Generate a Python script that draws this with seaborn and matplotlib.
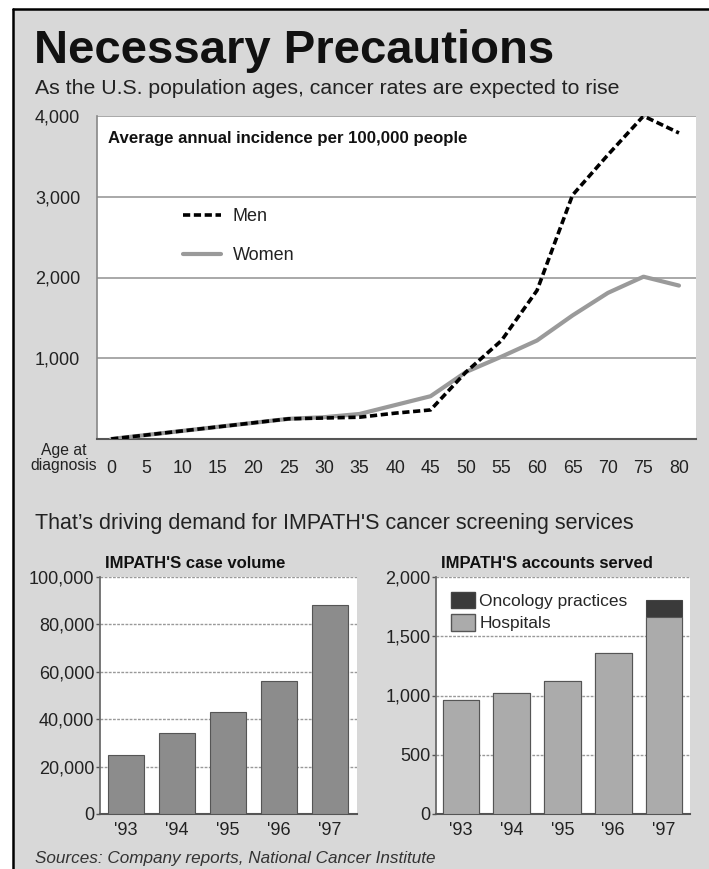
import numpy as np
import pandas as pd
import matplotlib
matplotlib.use("Agg")
import matplotlib.pyplot as plt
from matplotlib.patches import Rectangle
from matplotlib.lines import Line2D
from matplotlib.patches import Patch
import seaborn as sns

# ---------------- data ----------------
ages = [0, 5, 10, 15, 20, 25, 30, 35, 40, 45, 50, 55, 60, 65, 70, 75, 80]
men = [0, 50, 100, 150, 200, 250, 260, 270, 320, 360, 830, 1220, 1840, 3020, 3520, 4000, 3790]
women = [0, 50, 100, 150, 200, 250, 270, 310, 420, 530, 830, 1020, 1220, 1530, 1810, 2010, 1900]

years = ["'93", "'94", "'95", "'96", "'97"]
case_volume = [25000, 34000, 43000, 56000, 88000]
hospitals = [960, 1020, 1120, 1360, 1660]
oncology = [0, 0, 0, 0, 150]

top_yticks = [0, 1000, 2000, 3000, 4000]
top_yticklabels = ["", "1,000", "2,000", "3,000", "4,000"]
case_yticks = [0, 20000, 40000, 60000, 80000, 100000]
case_yticklabels = ["0", "20,000", "40,000", "60,000", "80,000", "100,000"]
acc_yticks = [0, 500, 1000, 1500, 2000]
acc_yticklabels = ["0", "500", "1,000", "1,500", "2,000"]

sns.set_theme(style="white")
plt.rcParams['font.family'] = ['Liberation Sans', 'DejaVu Sans']
REG = ['Liberation Sans', 'DejaVu Sans']

W, H = 709, 869
fig = plt.figure(figsize=(7.09, 8.69), dpi=100)
fig.patch.set_facecolor("white")

def fx(px):
    return px / W

def fy(py):
    return 1 - py / H

BG = "#d8d8d8"
fig.patches.append(Rectangle((fx(13), 0), 1 - fx(13), fy(9), transform=fig.transFigure,
                             facecolor=BG, edgecolor="none", zorder=-10))
fig.add_artist(Line2D([fx(13), 1], [fy(9), fy(9)], color="black", lw=1.8, transform=fig.transFigure))
fig.add_artist(Line2D([fx(13), fx(13)], [0, fy(9)], color="black", lw=1.8, transform=fig.transFigure))

# titles
fig.text(fx(34), fy(63), "Necessary Precautions", fontsize=34, fontweight="bold",
         family=REG, color="#111111", va="baseline", ha="left")
fig.text(fx(35), fy(94), "As the U.S. population ages, cancer rates are expected to rise",
         fontsize=15.3, family=REG, color="#222222", va="baseline", ha="left")
fig.text(fx(35), fy(529), "That\u2019s driving demand for IMPATH'S cancer screening services",
         fontsize=15.5, family=REG, color="#222222", va="baseline", ha="left")
fig.text(fx(35), fy(863), "Sources: Company reports, National Cancer Institute",
         fontsize=12.3, family=REG, style="italic", color="#333333", va="baseline", ha="left")

# ---------------- top line chart ----------------
ax = fig.add_axes([fx(97), fy(439), fx(696) - fx(97), fy(116) - fy(439)])
ax.set_facecolor("white")
df = pd.DataFrame({"age": ages, "Men": men, "Women": women})
sns.lineplot(data=df, x="age", y="Women", ax=ax, color="#9a9a9a", linewidth=3.0, zorder=3)
sns.lineplot(data=df, x="age", y="Men", ax=ax, color="black", linewidth=2.6,
             linestyle=(0, (2.0, 1.0)), zorder=4)
ax.set_xlim(-2.0, 82.4)
ax.set_ylim(0, 4000)
ax.set_yticks(top_yticks)
ax.set_yticklabels(top_yticklabels, family=REG, fontsize=13, color="#222222")
ax.set_xticks(ages)
ax.set_xticklabels([str(a) for a in ages], family=REG, fontsize=12.8, color="#222222")
ax.tick_params(axis="x", direction="in", length=7, width=1, color="#444444", pad=15)
ax.tick_params(axis="y", length=0, pad=12)
for v in [1000, 2000, 3000, 4000]:
    ax.axhline(v, color="#999999", lw=1.2, zorder=1)
for s in ["top", "right"]:
    ax.spines[s].set_visible(False)
ax.spines["left"].set_color("#888888")
ax.spines["left"].set_linewidth(1.2)
ax.spines["bottom"].set_color("#555555")
ax.spines["bottom"].set_linewidth(1.5)
ax.set_xlabel("")
ax.set_ylabel("")
ax.text(0.018, 0.93, "Average annual incidence per 100,000 people", transform=ax.transAxes,
        fontsize=12.1, fontweight="bold", family=REG, color="#111111", va="center", ha="left")
fig.text(fx(97), fy(470), "Age at\ndiagnosis", fontsize=11.3, family=REG, color="#222222",
         ha="right", va="baseline", multialignment="center", linespacing=1.0)
handles = [Line2D([], [], color="black", lw=2.6, linestyle=(0, (2.0, 1.0))),
           Line2D([], [], color="#9a9a9a", lw=3.0)]
leg = ax.legend(handles, ["Men", "Women"], loc="upper left", bbox_to_anchor=(0.117, 0.765),
                frameon=False, handlelength=2.1, labelspacing=1.2,
                handletextpad=0.65, prop={"family": REG, "size": 13})
for t in leg.get_texts():
    t.set_color("#222222")

# ---------------- bottom left bar chart ----------------
ax2 = fig.add_axes([fx(100), fy(814), fx(357) - fx(100), fy(577) - fy(814)])
ax2.set_facecolor("white")
dcv = pd.DataFrame({"year": years, "cases": case_volume})
sns.barplot(data=dcv, x="year", y="cases", ax=ax2, color="#8c8c8c", saturation=1,
            width=0.72, edgecolor="#555555", linewidth=0.8, zorder=3)
ax2.set_xlim(-0.51, 4.53)
ax2.set_ylim(0, 100000)
ax2.set_yticks(case_yticks)
ax2.set_yticklabels(case_yticklabels, family=REG, fontsize=13, color="#222222")
for v in case_yticks[1:]:
    ax2.axhline(v, color="#999999", lw=1.0, ls=(0, (2, 1)), zorder=1)

# ---------------- bottom right stacked bar chart ----------------
ax3 = fig.add_axes([fx(436), fy(814), fx(690) - fx(436), fy(577) - fy(814)])
ax3.set_facecolor("white")
dac = pd.DataFrame({"year": years, "hosp": hospitals, "onc": oncology})
dac["total"] = dac["hosp"] + dac["onc"]
sns.barplot(data=dac, x="year", y="total", ax=ax3, color="#3a3a3a", saturation=1,
            width=0.72, edgecolor="#444444", linewidth=0.8, zorder=3)
sns.barplot(data=dac, x="year", y="hosp", ax=ax3, color="#ababab", saturation=1,
            width=0.72, edgecolor="#555555", linewidth=0.8, zorder=4)
ax3.set_xlim(-0.49, 4.51)
ax3.set_ylim(0, 2000)
ax3.set_yticks(acc_yticks)
ax3.set_yticklabels(acc_yticklabels, family=REG, fontsize=13, color="#222222")
for v in acc_yticks[1:]:
    ax3.axhline(v, color="#999999", lw=1.0, ls=(0, (2, 1)), zorder=1)
lh = [Patch(facecolor="#3a3a3a", edgecolor="#444444"), Patch(facecolor="#ababab", edgecolor="#555555")]
leg3 = ax3.legend(lh, ["Oncology practices", "Hospitals"], loc="upper left",
                  bbox_to_anchor=(0.0, 1.0), frameon=False, handlelength=1.4, handleheight=1.1,
                  handletextpad=0.25, labelspacing=0.3, borderaxespad=0.45,
                  prop={"family": REG, "size": 12.5})

for a, title in [(ax2, "IMPATH'S case volume"), (ax3, "IMPATH'S accounts served")]:
    a.set_xlabel("")
    a.set_ylabel("")
    a.set_xticks(range(len(years)))
    a.set_xticklabels(years, family=REG, fontsize=13, color="#222222")
    a.tick_params(axis="x", length=0, pad=6)
    a.tick_params(axis="y", left=True, length=3, width=1, color="#555555", pad=1)
    for s in ["top", "right"]:
        a.spines[s].set_visible(False)
    a.spines["left"].set_color("#666666")
    a.spines["bottom"].set_color("#555555")
    a.spines["bottom"].set_linewidth(1.5)
    a.text(0.02, 1.025, title, transform=a.transAxes, fontsize=12, fontweight="bold",
           family=REG, color="#111111", ha="left", va="bottom")

fig.savefig("out.png", dpi=100, facecolor=fig.get_facecolor())
